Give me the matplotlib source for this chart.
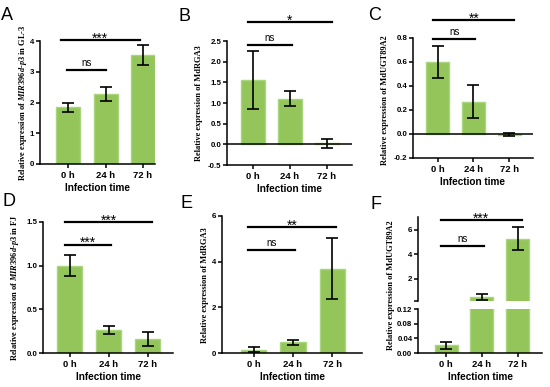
import numpy as np
import matplotlib.pyplot as plt

plt.rcParams['font.family'] = ['Liberation Sans', 'DejaVu Sans']
plt.rcParams['mathtext.fontset'] = 'custom'
plt.rcParams['mathtext.it'] = 'Liberation Serif:italic:bold'
plt.rcParams['mathtext.rm'] = 'Liberation Serif:bold'

times = ['0 h', '24 h', '72 h']

# panel values (mean, error)
a_mean = [1.85, 2.28, 3.55]
a_err = [0.15, 0.22, 0.33]
b_mean = [1.55, 1.10, 0.03]
b_err = [0.70, 0.18, 0.11]
c_mean = [0.60, 0.27, -0.005]
c_err = [0.13, 0.14, 0.01]
d_mean = [1.00, 0.265, 0.16]
d_err = [0.12, 0.045, 0.075]
e_mean = [0.15, 0.47, 3.70]
e_err = [0.11, 0.11, 1.34]
f_mean = [0.021, 0.50, 5.30]
f_err = [0.009, 0.25, 0.97]

W, H = 550, 387
fig = plt.figure(figsize=(W / 100, H / 100), dpi=100)

bar_c = '#93c55b'
edge_c = '#a9d67c'
lw = 1.1


def box(x0, x1, ytop, ybot):
    return [x0 / W, 1 - ybot / H, (x1 - x0) / W, (ybot - ytop) / H]


def style(ax, yt, xlim):
    ax.set_xlim(*xlim)
    for s in ['top', 'right']:
        ax.spines[s].set_visible(False)
    for s in ['left', 'bottom']:
        ax.spines[s].set_linewidth(lw)
    ax.tick_params(width=lw, length=3, labelsize=5.7, pad=1)
    ax.set_yticks(yt)
    for t in ax.get_yticklabels() + ax.get_xticklabels():
        t.set_fontweight('bold')


def bars(ax, mean, err):
    x = np.arange(3)
    ax.bar(x, mean, 0.64, color=bar_c, edgecolor=edge_c, linewidth=1.0, zorder=2)
    ax.errorbar(x, mean, yerr=err, fmt='none', ecolor='black', elinewidth=1.2,
                capsize=4.5, capthick=1.2, zorder=3)


def sig(ax, x0, x1, y, txt, gap):
    # gap: distance in pixels from the line to the text centre
    ax.plot([x0, x1], [y, y], color='black', lw=1.6, clip_on=False, zorder=4)
    stars = txt.startswith('*')
    t = ax.annotate(txt, ((x0 + x1) / 2, y), xytext=(0, gap * 0.72),
                    textcoords='offset points', ha='center',
                    va='center', fontsize=10 if stars else 7,
                    annotation_clip=False)
    if stars:
        t.set_va('center_baseline')


def xlab(ax):
    ax.set_xticks(range(3))
    ax.set_xticklabels(times, fontweight='bold', fontsize=6.8)
    ax.tick_params(axis='x', pad=2)
    ax.set_xlabel('Infection time', fontweight='bold', fontsize=7.2, labelpad=2.5)


def ylab(x, y, txt):
    fig.text(x / W, 1 - y / H, txt, rotation=90, ha='center', va='center',
             fontsize=6.0, family='Liberation Serif', fontweight='bold')


def letter(x, y, t):
    fig.text(x / W, 1 - y / H, t, fontsize=13, family='Liberation Sans',
             ha='left', va='top')


# A
ax = fig.add_axes(box(40, 155, 41, 164))
bars(ax, a_mean, a_err)
ax.set_ylim(0, 4)
style(ax, [0, 1, 2, 3, 4], (-0.75, 2.32))
xlab(ax)
sig(ax, -0.03, 1.0, 3.05, 'ns', 7)
sig(ax, -0.2, 1.92, 4.03, '***', 3)
ylab(23, 103, 'Relative expression of $\\mathit{MIR396d}$-$\\mathit{p3}$ in GL-3')
letter(1, 7, 'A')

# B
ax = fig.add_axes(box(227, 352, 41, 165))
bars(ax, b_mean, b_err)
ax.set_ylim(-0.5, 2.5)
ax.axhline(0, color='black', lw=lw, zorder=3)
style(ax, [-0.5, 0, 0.5, 1.0, 1.5, 2.0, 2.5], (-0.7, 2.68))
ax.set_yticklabels(['-0.5', '0.0', '0.5', '1.0', '1.5', '2.0', '2.5'], fontweight='bold')
xlab(ax)
sig(ax, -0.12, 1.05, 2.4, 'ns', 7)
sig(ax, -0.14, 2.14, 2.95, '*', 3)
ylab(199, 103, 'Relative expression of MdRGA3')
letter(178, 8, 'B')

# C
ax = fig.add_axes(box(413, 533, 38, 158))
bars(ax, c_mean, c_err)
ax.set_ylim(-0.2, 0.8)
ax.axhline(0, color='black', lw=lw, zorder=3)
style(ax, [-0.2, 0, 0.2, 0.4, 0.6, 0.8], (-0.69, 2.67))
ax.set_yticklabels(['-0.2', '0.0', '0.2', '0.4', '0.6', '0.8'], fontweight='bold')
xlab(ax)
sig(ax, -0.12, 1.05, 0.79, 'ns', 7)
sig(ax, -0.12, 2.15, 0.95, '**', 3)
ylab(385, 100, 'Relative expression of MdUGT89A2')
letter(368, 7, 'C')

# D
ax = fig.add_axes(box(43, 173, 222, 353))
bars(ax, d_mean, d_err)
ax.set_ylim(0, 1.5)
style(ax, [0, 0.5, 1.0, 1.5], (-0.68, 2.64))
ax.set_yticklabels(['0.0', '0.5', '1.0', '1.5'], fontweight='bold')
xlab(ax)
sig(ax, -0.12, 1.05, 1.24, '***', 3)
sig(ax, -0.12, 2.1, 1.5, '***', 3)
ylab(15, 288, 'Relative expression of $\\mathit{MIR396d}$-$\\mathit{p3}$ in FJ')
letter(2, 193, 'D')

# E
ax = fig.add_axes(box(222, 362, 216, 353))
bars(ax, e_mean, e_err)
ax.set_ylim(0, 6)
style(ax, [0, 2, 4, 6], (-0.8, 2.75))
xlab(ax)
sig(ax, -0.15, 1.05, 4.5, 'ns', 7)
sig(ax, -0.15, 2.1, 5.5, '**', 3)
ylab(205, 285, 'Relative expression of MdRGA3')
letter(180, 195, 'E')

# F (broken axis)
xl = (-0.78, 2.67)
axt = fig.add_axes(box(418, 542, 217, 301))
bars(axt, f_mean, f_err)
axt.set_ylim(0.2, 7.06)
style(axt, [0.2, 2, 4, 6], xl)
axt.set_yticklabels(['', '2', '4', '6'], fontweight='bold')
axt.spines['bottom'].set_visible(False)
axt.tick_params(axis='x', bottom=False, labelbottom=False)
sig(axt, -0.15, 1.05, 4.7, 'ns', 7)
sig(axt, -0.15, 2.1, 6.8, '***', 3)

axb = fig.add_axes(box(418, 542, 309, 353))
bars(axb, f_mean, f_err)
axb.set_ylim(0, 0.12)
style(axb, [0, 0.04, 0.08, 0.12], xl)
axb.set_yticklabels(['0.00', '0.04', '0.08', '0.12'], fontweight='bold')
xlab(axb)
ylab(391, 285, 'Relative expression of MdUGT89A2')
letter(371, 196, 'F')

fig.savefig('out.png', dpi=100)
